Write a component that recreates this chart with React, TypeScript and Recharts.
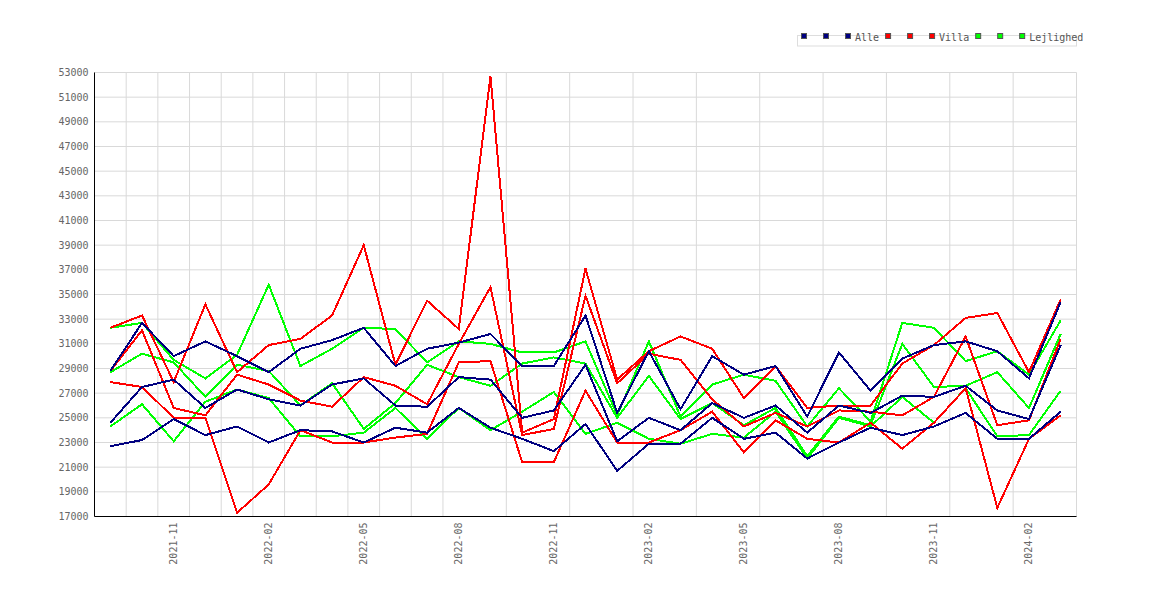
import React from 'react';
import { LineChart, Line, XAxis, YAxis, CartesianGrid } from 'recharts';

const months = [
  '2021-09', '2021-10', '2021-11', '2021-12', '2022-01', '2022-02', '2022-03', '2022-04',
  '2022-05', '2022-06', '2022-07', '2022-08', '2022-09', '2022-10', '2022-11', '2022-12',
  '2023-01', '2023-02', '2023-03', '2023-04', '2023-05', '2023-06', '2023-07', '2023-08',
  '2023-09', '2023-10', '2023-11', '2023-12', '2024-01', '2024-02', '2024-03',
];

const tickMonths = ['2021-11', '2022-02', '2022-05', '2022-08', '2022-11', '2023-02', '2023-05', '2023-08', '2023-11', '2024-02'];

const yTicks = [17000, 19000, 21000, 23000, 25000, 27000, 29000, 31000, 33000, 35000, 37000, 39000, 41000, 43000, 45000, 47000, 49000, 51000, 53000];

// Alle
const alleHi = [28800, 32700, 30000, 31200, 30000, 28700, 30600, 31300, 32300, 29200, 30600, 31100, 31800, 29200, 29200, 33300, 25400, 30400, 25700, 30000, 28500, 29200, 25100, 30300, 27200, 29800, 30900, 31200, 30400, 28200, 34400];
const alleMid = [24600, 27500, 28100, 25800, 27300, 26500, 26000, 27700, 28200, 26000, 25900, 28300, 28100, 25000, 25600, 29300, 23100, 25000, 24000, 26200, 25000, 26000, 23800, 26000, 25400, 26800, 26700, 27600, 25600, 24900, 30900];
const alleLo = [22700, 23200, 24900, 23600, 24300, 23000, 24000, 23900, 23000, 24200, 23800, 25800, 24200, 23300, 22300, 24500, 20700, 22900, 22900, 25000, 23300, 23800, 21700, 23000, 24200, 23600, 24300, 25400, 23300, 23300, 25500];

// Villa
const villaHi = [32300, 33300, 27900, 34200, 28700, 30900, 31400, 33300, 39000, 29300, 34500, 32200, 52700, 23800, 24900, 37100, 28100, 30400, 31600, 30600, 26600, 29200, 25800, 26000, 26000, 29400, 30900, 33100, 33500, 28700, 34600];
const villaMid = [28800, 32100, 25800, 25200, 28500, 27700, 26400, 25900, 28300, 27600, 26100, 31000, 35600, 23600, 24100, 34900, 27800, 30200, 29700, 26500, 24300, 25400, 24300, 25600, 25500, 25200, 26700, 31600, 24400, 24800, 31400];
const villaLo = [27900, 27500, 25000, 25000, 17300, 19600, 24000, 23000, 23000, 23400, 23700, 29500, 29600, 21400, 21400, 27200, 23000, 23000, 24000, 25500, 22200, 24800, 23300, 23000, 24600, 22500, 24600, 27400, 17700, 23300, 25200];

// Lejlighed
const lejHi = [32300, 32700, 29700, 28200, 30100, 35800, 29200, 30600, 32300, 32200, 29500, 31200, 31000, 30300, 30300, 31200, 25200, 31200, 25100, 27700, 28500, 28000, 24300, 27400, 24700, 32700, 32300, 29600, 30400, 28500, 32900];
const lejMid = [28700, 30200, 29500, 26700, 29300, 28800, 26000, 27800, 24100, 26200, 29300, 28300, 27600, 29400, 29900, 29400, 25000, 28400, 24900, 26200, 24400, 25800, 21900, 25100, 24400, 31000, 27500, 27600, 28700, 25800, 31800];
const lejLo = [24300, 26100, 23100, 26300, 27300, 26600, 23500, 23500, 23800, 25800, 23300, 25800, 24000, 25500, 27100, 23700, 24600, 23300, 22900, 23700, 23400, 25500, 21700, 25000, 24300, 26700, 24600, 27400, 23500, 23600, 27200];

const NAVY = '#000080';
const RED = '#ff0000';
const GREEN = '#00ff00';

const data = months.map((m, i) => ({
  i,
  month: m,
  alleHi: alleHi[i], alleMid: alleMid[i], alleLo: alleLo[i],
  villaHi: villaHi[i], villaMid: villaMid[i], villaLo: villaLo[i],
  lejHi: lejHi[i], lejMid: lejMid[i], lejLo: lejLo[i],
}));

const legendGroups = [
  { name: 'Alle', color: NAVY, keys: ['alleHi', 'alleMid', 'alleLo'] },
  { name: 'Villa', color: RED, keys: ['villaHi', 'villaMid', 'villaLo'] },
  { name: 'Lejlighed', color: GREEN, keys: ['lejHi', 'lejMid', 'lejLo'] },
];

// drawing order: green, red, navy (navy on top)
const drawOrder = [legendGroups[2], legendGroups[1], legendGroups[0]];

const xTicks = tickMonths.map((m) => months.indexOf(m));
// grid lines sit on the band boundaries between months, plus the right edge
const gridTicks = months.map((_, k) => k + 0.5);

const FONT = '"DejaVu Sans Mono", monospace';

const XTick = (props: any) => {
  const { x, y, payload } = props;
  return (
    <text
      x={x}
      y={y}
      transform={`rotate(-90, ${x}, ${y})`}
      textAnchor="end"
      dominantBaseline="central"
      fill="#666"
      fontSize={10}
      fontFamily={FONT}
    >
      {months[payload.value]}
    </text>
  );
};

const Legend = () => {
  const CH = 6.02;
  let x = 801;
  const items: React.ReactNode[] = [];
  legendGroups.forEach((g) => {
    g.keys.forEach((k, idx) => {
      const labelled = idx === g.keys.length - 1;
      items.push(
        <rect key={k + 'r'} x={x + 0.5} y={33.5} width={5} height={5} fill={g.color} stroke="#555" strokeWidth={1} />
      );
      if (labelled) {
        items.push(
          <text key={k + 't'} x={x + 10} y={40.7} fontSize={10} fontFamily={FONT} fill="#555">
            {g.name}
          </text>
        );
        x += 10 + g.name.length * CH + 6;
      } else {
        x += 22;
      }
    });
  });
  return (
    <svg width={1170} height={60} style={{ position: 'absolute', left: 0, top: 0, pointerEvents: 'none' }}>
      <rect x={797.5} y={35.5} width={279} height={10.5} fill="none" stroke="#dddddd" strokeWidth={1} />
      {items}
    </svg>
  );
};

export default function App() {
  return (
    <div style={{ position: 'absolute', left: 0, top: 0, width: 1170, height: 600, background: '#fff' }}>
      <LineChart
        width={1170}
        height={600}
        data={data}
        margin={{ top: 72.5, right: 93.5, bottom: 0, left: 0 }}
      >
        <XAxis
          xAxisId="grid"
          dataKey="i"
          type="number"
          domain={[-0.5, 30.5]}
          ticks={gridTicks}
          hide
        />
        <CartesianGrid xAxisId="grid" stroke="#d9d9d9" strokeWidth={1} />
        <XAxis
          dataKey="i"
          type="number"
          domain={[-0.5, 30.5]}
          ticks={xTicks}
          interval={0}
          height={83.5}
          tick={<XTick />}
          tickLine={false}
          tickSize={4}
          tickMargin={2}
          axisLine={{ stroke: '#000', strokeWidth: 1 }}
        />
        <YAxis
          type="number"
          domain={[17000, 53000]}
          ticks={yTicks}
          interval={0}
          width={94.5}
          tickSize={4}
          tickMargin={2}
          tickLine={false}
          axisLine={{ stroke: '#000', strokeWidth: 1 }}
          tick={{ fill: '#666', fontSize: 10, fontFamily: FONT }}
        />
        {drawOrder.flatMap((g) =>
          g.keys.map((k) => (
            <Line
              key={k}
              dataKey={k}
              type="linear"
              stroke={g.color}
              strokeWidth={2}
              dot={false}
              activeDot={false}
              isAnimationActive={false}
              shapeRendering="crispEdges"
            />
          ))
        )}
      </LineChart>
      <Legend />
    </div>
  );
}
